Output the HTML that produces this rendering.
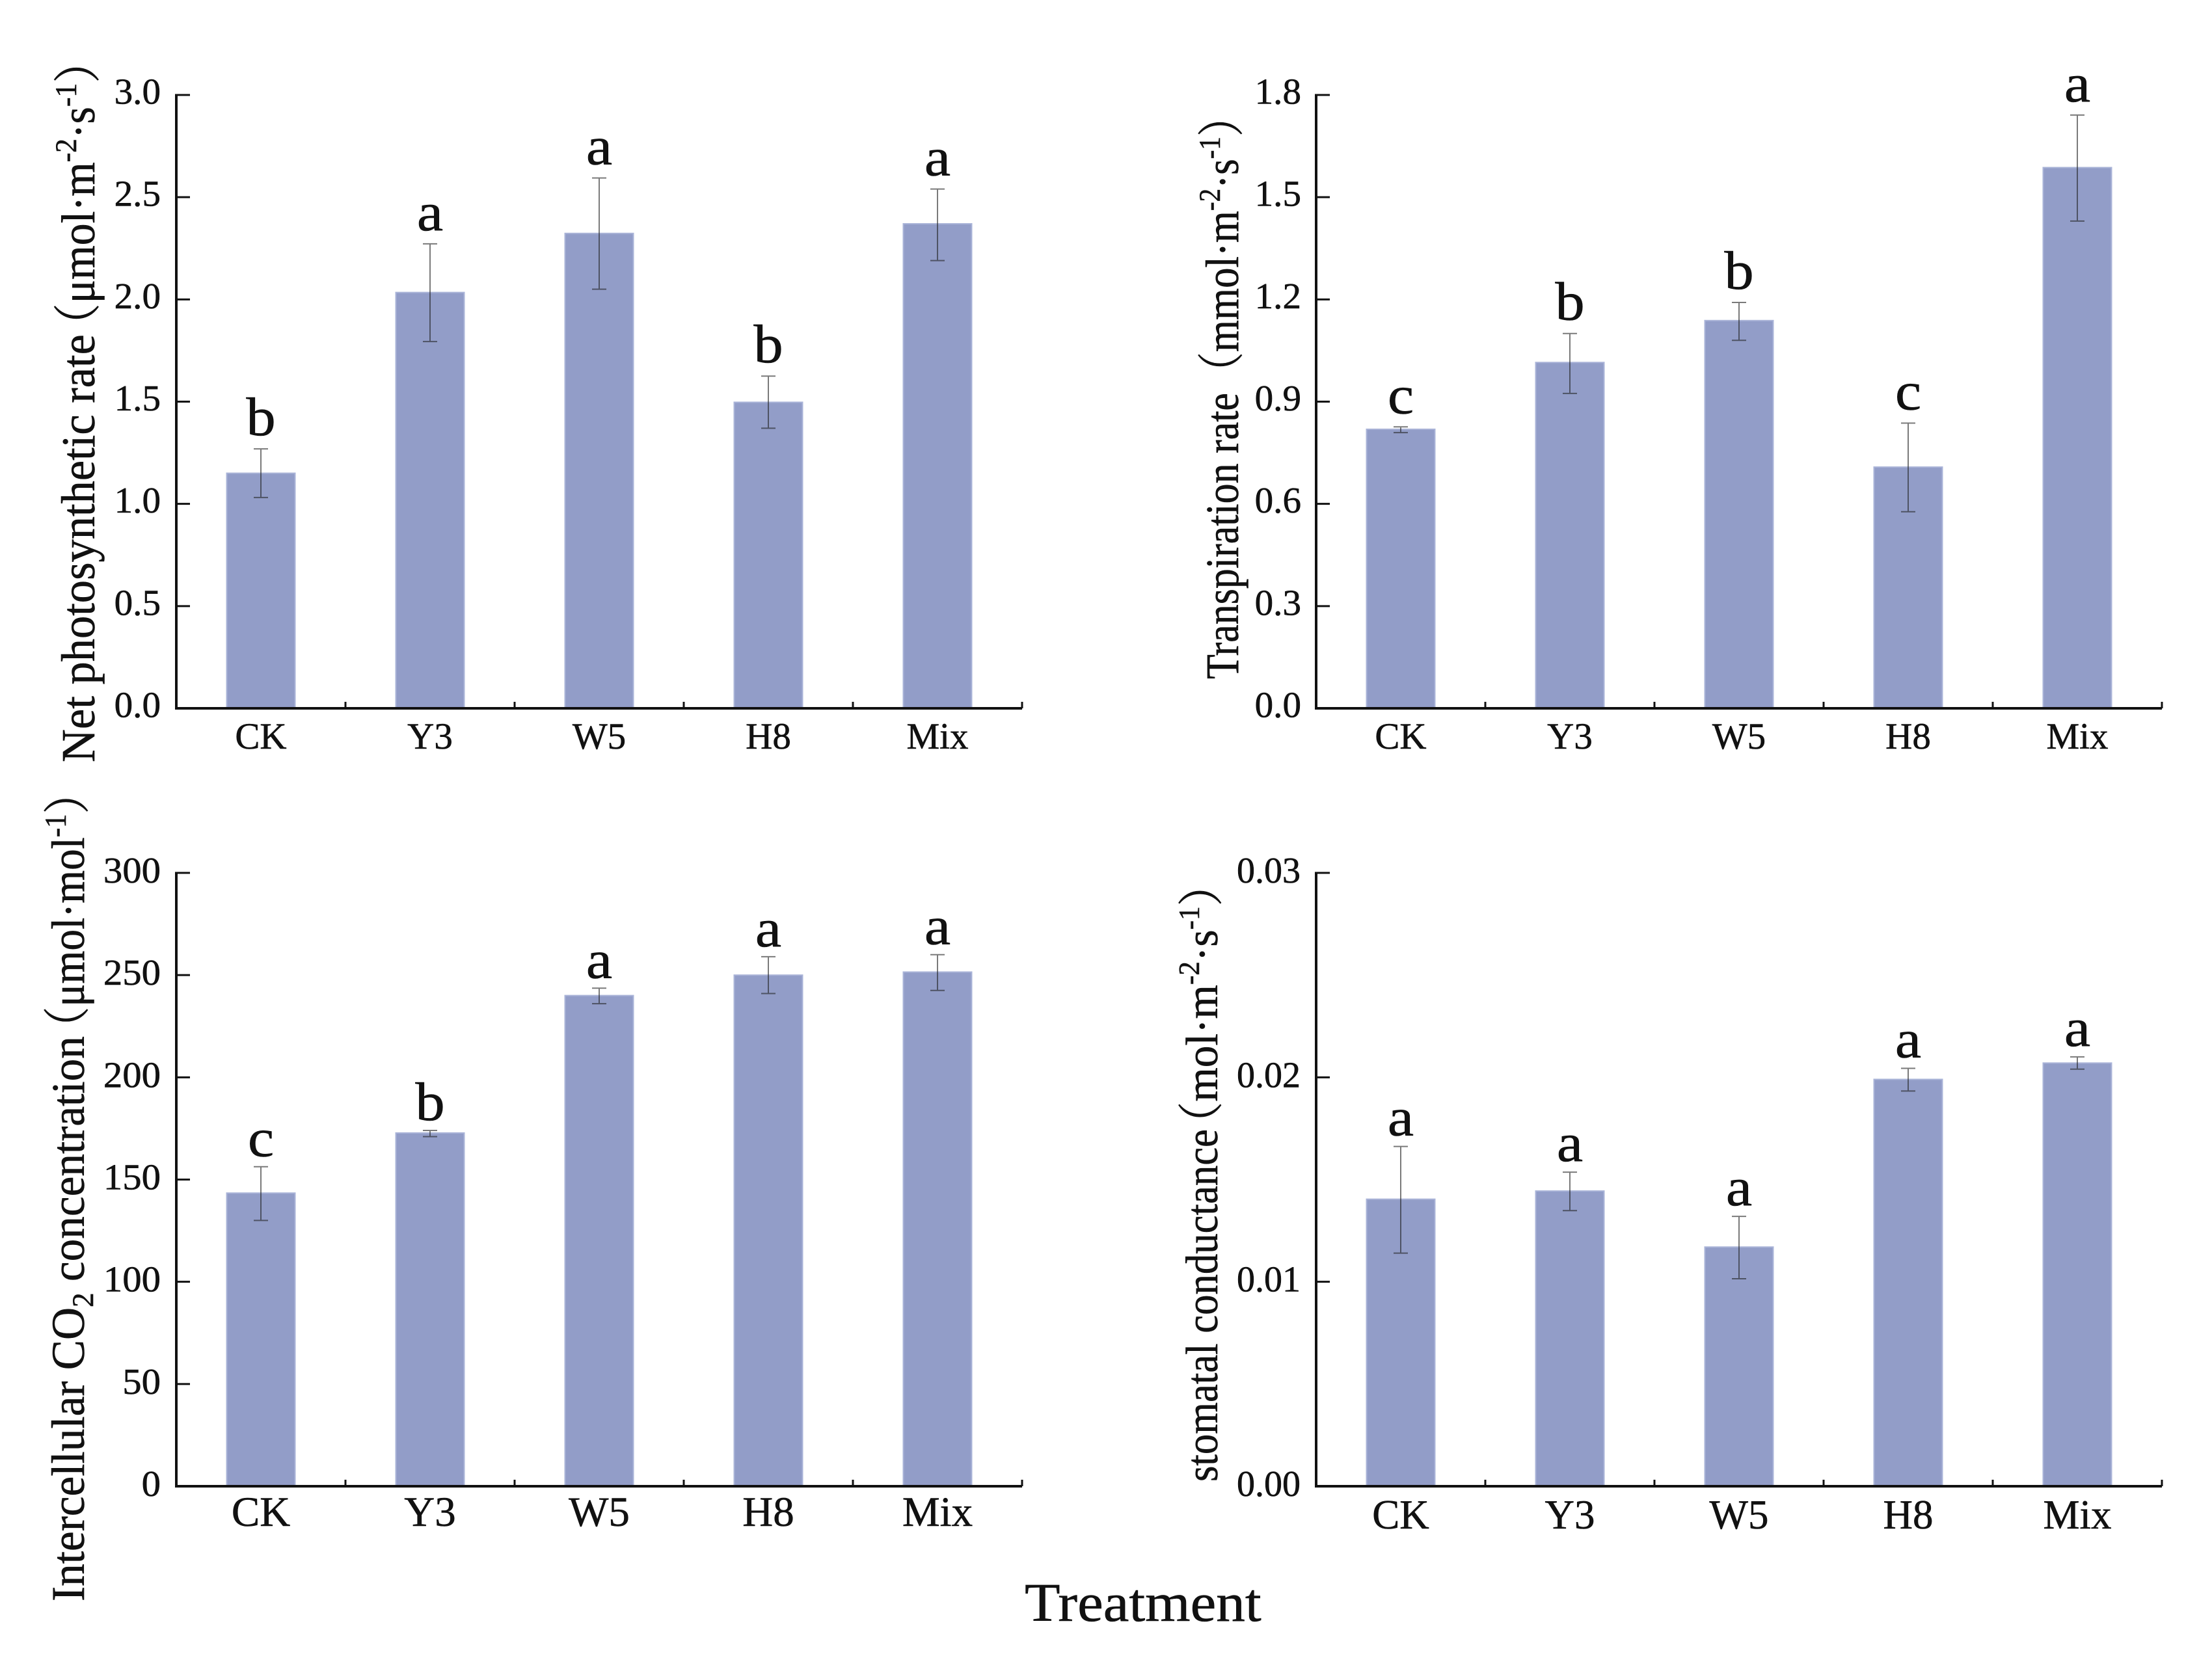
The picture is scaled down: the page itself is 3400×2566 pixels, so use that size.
<!DOCTYPE html>
<html lang="en">
<head>
<meta charset="utf-8">
<title>Photosynthesis parameters by treatment</title>
<style>
html,body{margin:0;padding:0;background:#fff;width:3400px;height:2566px;overflow:hidden}
svg{display:block}
text{font-family:"Liberation Serif","Noto Serif CJK SC",serif;fill:#111;stroke:#111;stroke-width:.6}
</style>
</head>
<body>
<svg id="figure" xmlns="http://www.w3.org/2000/svg" width="3400" height="2566" viewBox="0 0 3400 2566">
  <rect x="0" y="0" width="3400" height="2566" fill="#fff"/>
  <g id="marks"></g>

  <text class="fit" data-len="658" data-x="145" data-y="1172" font-size="73">Net photosynthetic rate</text>
  <text class="fit" data-len="474" data-x="145" data-y="534" font-size="73">（μmol·m<tspan dy="-28" font-size="47">-2</tspan><tspan dy="28">·s</tspan><tspan dy="-28" font-size="47">-1</tspan><tspan dy="28">）</tspan></text>

  <text class="fit" data-len="440" data-x="1903" data-y="1044" font-size="72">Transpiration rate</text>
  <text class="fit" data-len="457" data-x="1903" data-y="604" font-size="72">（mmol·m<tspan dy="-28" font-size="47">-2</tspan><tspan dy="28">·s</tspan><tspan dy="-28" font-size="47">-1</tspan><tspan dy="28">）</tspan></text>

  <text class="fit" data-len="869" data-x="129" data-y="2462" font-size="72">Intercellular CO<tspan dy="14" font-size="47">2</tspan><tspan dy="-14"> concentration</tspan></text>
  <text class="fit" data-len="427" data-x="129" data-y="1613" font-size="72">（μmol·mol<tspan dy="-28" font-size="47">-1</tspan><tspan dy="28">）</tspan></text>

  <text class="fit" data-len="542" data-x="1871" data-y="2278" font-size="70">stomatal conductance</text>
  <text class="fit" data-len="435" data-x="1871" data-y="1761" font-size="70">（mol·m<tspan dy="-28" font-size="45">-2</tspan><tspan dy="28">·s</tspan><tspan dy="-28" font-size="45">-1</tspan><tspan dy="28">）</tspan></text>

  <text id="x-title" transform="translate(1575,2492) scale(1.063,1)" font-size="84">Treatment</text>
</svg>

<script>
const categories = ['CK', 'Y3', 'W5', 'H8', 'Mix'];

const photoTicks = ['0.0', '0.5', '1.0', '1.5', '2.0', '2.5', '3.0'];
const photoMax = 3;
const photoMeans = [1.15, 2.034, 2.323, 1.497, 2.37];
const photoUpper = [1.269, 2.272, 2.594, 1.625, 2.54];
const photoLower = [1.031, 1.794, 2.05, 1.37, 2.19];
const photoLetters = ['b', 'a', 'a', 'b', 'a'];

const transTicks = ['0.0', '0.3', '0.6', '0.9', '1.2', '1.5', '1.8'];
const transMax = 1.8;
const transMeans = [0.819, 1.015, 1.138, 0.708, 1.587];
const transUpper = [0.826, 1.1, 1.191, 0.837, 1.741];
const transLower = [0.809, 0.924, 1.08, 0.577, 1.43];
const transLetters = ['c', 'b', 'b', 'c', 'a'];

const co2Ticks = ['0', '50', '100', '150', '200', '250', '300'];
const co2Max = 300;
const co2Means = [143.4, 172.8, 240, 250, 251.5];
const co2Upper = [156.3, 174, 243.6, 259, 260];
const co2Lower = [130, 171, 236, 241, 242.5];
const co2Letters = ['c', 'b', 'a', 'a', 'a'];

const condTicks = ['0.00', '0.01', '0.02', '0.03'];
const condMax = 0.03;
const condMeans = [0.01404, 0.01444, 0.0117, 0.0199, 0.0207];
const condUpper = [0.01662, 0.01536, 0.0132, 0.02044, 0.021];
const condLower = [0.0114, 0.01348, 0.01015, 0.01933, 0.0204];
const condLetters = ['a', 'a', 'a', 'a', 'a'];

const SVGNS = 'http://www.w3.org/2000/svg';
const root = document.getElementById('marks');

function make(tag, parent, attrs) {
  const el = document.createElementNS(SVGNS, tag);
  for (const k in attrs) el.setAttribute(k, attrs[k]);
  parent.appendChild(el);
  return el;
}

function drawPanel(key, cfg, ticks, max, means, upper, lower, letters) {
  const g = make('g', root, {});
  
  

  const plotH = 943, step = 260, barW = 105;
  const y = v => cfg.base - (v / max) * plotH;
  const x = i => cfg.left + step * (i + 0.5);
  const right = cfg.left + step * categories.length;

  categories.forEach((cat, i) => {
    const bar = make('rect', g, {
      x: x(i) - barW / 2, y: y(means[i]), width: barW, height: cfg.base - y(means[i]),
      fill: '#929dc8', stroke: '#aab4d8', 'stroke-width': 2
    });
    
    

    const err = make('path', g, {
      d: 'M' + x(i) + ' ' + y(upper[i]) + 'V' + y(lower[i]) +
         'M' + (x(i) - 11) + ' ' + y(upper[i]) + 'H' + (x(i) + 11) +
         'M' + (x(i) - 11) + ' ' + y(lower[i]) + 'H' + (x(i) + 11),
      fill: 'none', stroke: '#222', 'stroke-opacity': 0.6, 'stroke-width': 2
    });
    
    

    const letter = make('text', g, {
      transform: 'translate(' + x(i) + ',' + (y(upper[i]) - cfg.gap) + ') scale(1.08,1)',
      'font-size': 84, 'text-anchor': 'middle'
    });
    letter.textContent = letters[i];
    
    

    const lab = make('text', g, {
      transform: 'translate(' + x(i) + ',' + cfg.catY + ') scale(' + cfg.catSx + ',1)',
      'font-size': cfg.catSize, 'text-anchor': 'middle'
    });
    lab.textContent = cat;
    
    
  });

  let axisD = 'M' + cfg.left + ' ' + (y(max) - 1.5) + 'V' + cfg.base + 'H' + right;
  const yAxis = make('path', g, { d: axisD, fill: 'none', stroke: '#111', 'stroke-width': 4 });
  
  

  ticks.forEach(t => {
    const v = parseFloat(t);
    const tick = make('line', g, {
      x1: cfg.left, x2: cfg.left + 21, y1: y(v), y2: y(v), stroke: '#111', 'stroke-width': 3
    });
    
    

    const lbl = make('text', g, {
      transform: 'translate(' + cfg.tickRight + ',' + (y(v) + cfg.tickDy) + ') scale(' + cfg.tickSx + ',1)',
      'font-size': cfg.tickSize, 'text-anchor': 'end'
    });
    lbl.textContent = t;
    
    
  });

  for (let i = 1; i <= categories.length; i++) {
    const tx = cfg.left + step * i;
    const xt = make('line', g, {
      x1: tx, x2: tx, y1: cfg.base, y2: cfg.base - 10, stroke: '#111', 'stroke-width': 3
    });
    
    
  }
}

drawPanel('photosynthesis',
  { left: 271, base: 1089, gap: 21, catY: 1151, catSize: 57, catSx: 1, tickRight: 247, tickDy: 13.5, tickSize: 56, tickSx: 1.02 },
  photoTicks, photoMax, photoMeans, photoUpper, photoLower, photoLetters);

drawPanel('transpiration',
  { left: 2023, base: 1089, gap: 21, catY: 1151, catSize: 57, catSx: 1, tickRight: 2000, tickDy: 13.5, tickSize: 56, tickSx: 1.02 },
  transTicks, transMax, transMeans, transUpper, transLower, transLetters);

drawPanel('co2',
  { left: 271, base: 2285, gap: 16, catY: 2346, catSize: 65, catSx: 1, tickRight: 247, tickDy: 15, tickSize: 56, tickSx: 1.05 },
  co2Ticks, co2Max, co2Means, co2Upper, co2Lower, co2Letters);

drawPanel('conductance',
  { left: 2023, base: 2285, gap: 17, catY: 2350, catSize: 63, catSx: 1, tickRight: 1999, tickDy: 15, tickSize: 56, tickSx: 1 },
  condTicks, condMax, condMeans, condUpper, condLower, condLetters);

document.querySelectorAll('text.fit').forEach(t => {
  const len = t.getComputedTextLength();
  const target = parseFloat(t.getAttribute('data-len'));
  t.setAttribute('transform',
    'translate(' + t.getAttribute('data-x') + ',' + t.getAttribute('data-y') + ') rotate(-90) scale(' + (target / len) + ',1)');
});
</script>
</body>
</html>
